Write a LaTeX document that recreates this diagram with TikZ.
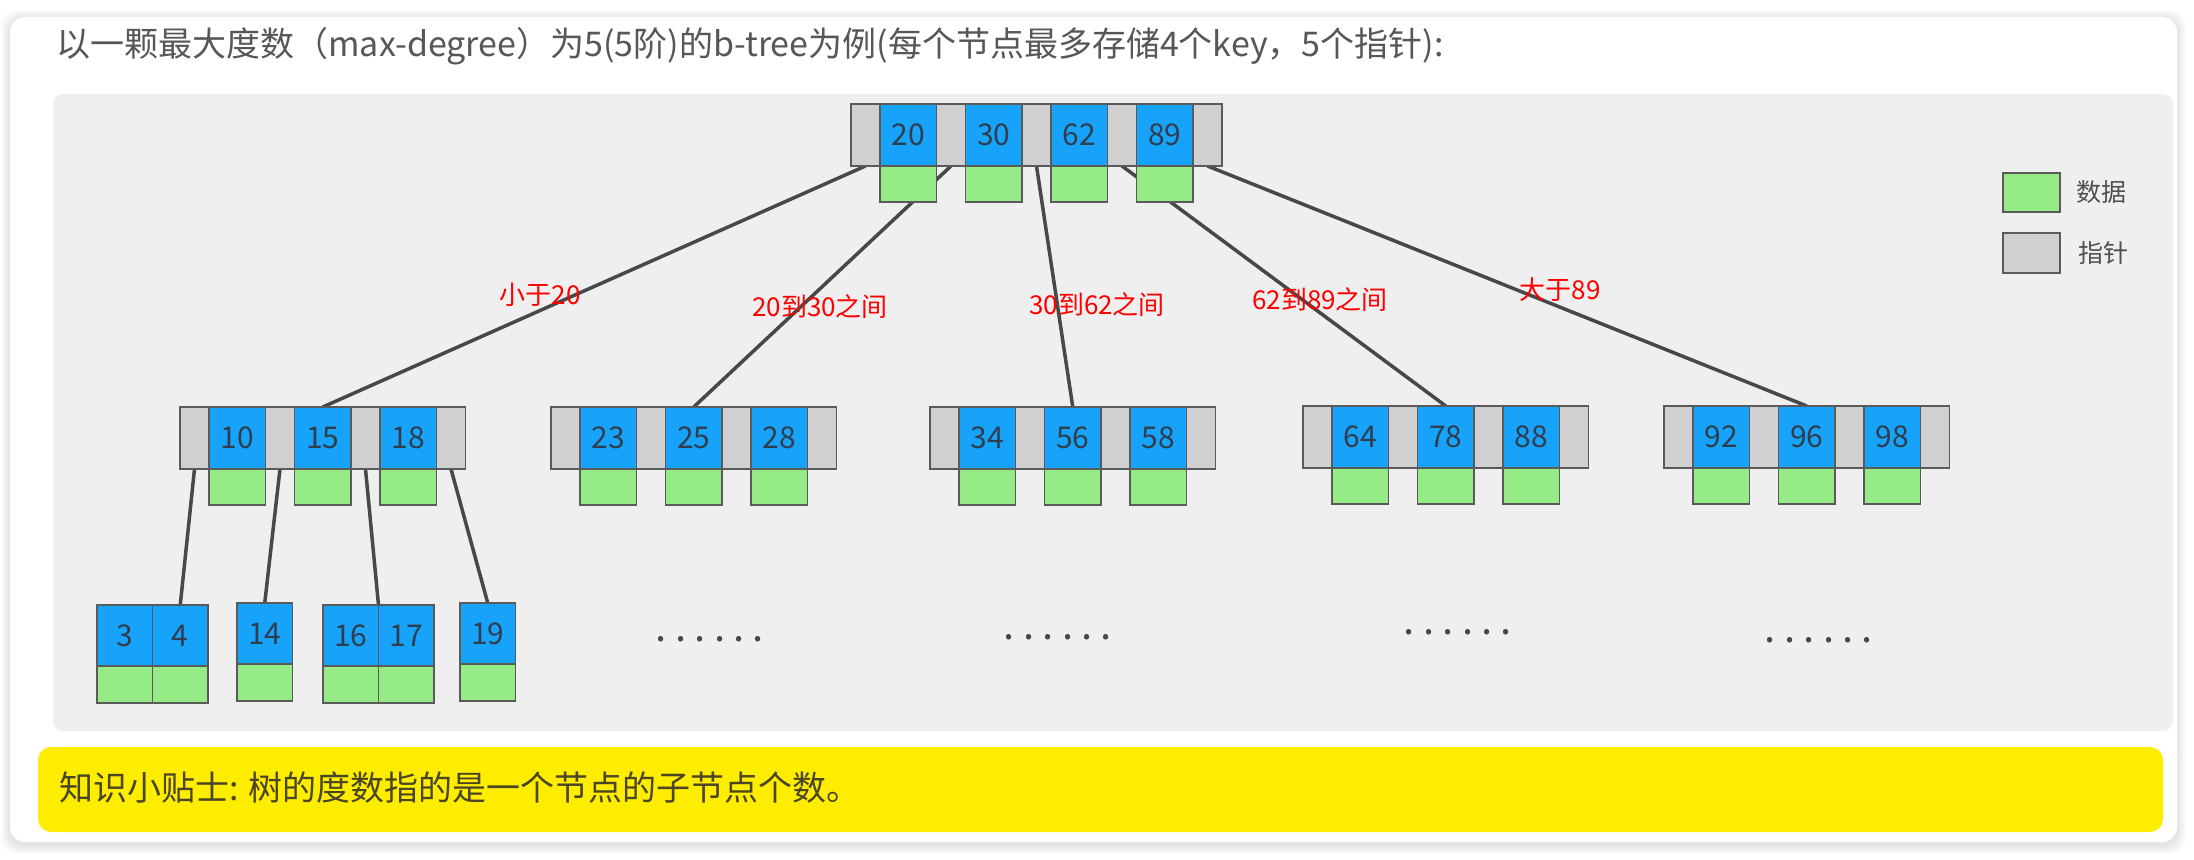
\documentclass[tikz,border=0pt]{standalone}
\usepackage{fontspec}
\setmainfont{Noto Sans CJK SC}
\usetikzlibrary{positioning}

\definecolor{keyblue}{HTML}{18A3FA}
\definecolor{datgreen}{HTML}{95EC87}
\definecolor{ptrgray}{HTML}{D0D0D0}
\definecolor{bord}{HTML}{5A5A5A}
\definecolor{keytext}{HTML}{2E3E4E}
\definecolor{edgecol}{HTML}{484848}
\definecolor{panelgray}{HTML}{EFEFEF}
\definecolor{tipyellow}{HTML}{FFED00}
\definecolor{titlecol}{HTML}{575757}
\definecolor{tiptext}{HTML}{4A4524}
\definecolor{legcol}{HTML}{505050}

\pgfdeclarelayer{back}
\pgfdeclarelayer{edges}
\pgfsetlayers{back,edges,main}

% inner node: name, left x, top y, keys, number of pointers
\newcommand{\btnode}[5]{%
  \foreach \k [count=\i] in {#4} {
    \node[ptrcell] (#1-p\i) at ({#2+(\i-1)*85.5},#3) {};
    \node[keycell] (#1-k\i) at (#1-p\i.north east) {\k};
    \node[datcell] (#1-d\i) at (#1-k\i.south west) {};
  }
  \node[ptrcell] (#1-p#5) at ({#2+(#5-1)*85.5},#3) {};
}
% leaf node: name, left x, top y, keys
\newcommand{\btleaf}[4]{%
  \foreach \k [count=\i] in {#4} {
    \node[lkeycell] (#1-k\i) at ({#2+(\i-1)*55.5},#3) {\k};
    \node[ldatcell] (#1-d\i) at (#1-k\i.south west) {};
  }
}
\newcommand{\dotcell}{\makebox[9.7pt]{.}}

\begin{document}
\begin{tikzpicture}[x=0.5pt, y=-0.5pt,
  cell/.style={draw=bord, line width=0.75pt, inner sep=0pt, outer sep=0pt, anchor=north west},
  ptrcell/.style={cell, fill=ptrgray, minimum width=14.5pt, minimum height=31pt},
  keycell/.style={cell, fill=keyblue, text=keytext, font=\fontsize{15pt}{15pt}\selectfont,
    minimum width=28.25pt, minimum height=31pt},
  datcell/.style={cell, fill=datgreen, minimum width=28.25pt, minimum height=18pt},
  lkeycell/.style={keycell, minimum width=27.75pt, minimum height=30.5pt},
  ldatcell/.style={datcell, minimum width=27.75pt, minimum height=18.5pt},
  link/.style={draw=edgecol, line width=1.75pt},
  rangelabel/.style={text=red, font=\fontsize{13pt}{13pt}\selectfont, inner sep=0pt},
  legtext/.style={text=legcol, font=\fontsize{12.5pt}{12.5pt}\selectfont, inner sep=0pt},
  dotrow/.style={text=edgecol, font=\fontsize{20pt}{20pt}\selectfont, inner sep=0pt}]
\useasboundingbox (0,0) rectangle (2194,860);

% Card, panel and tip box
\begin{pgfonlayer}{back}
\fill[white] (0,0) rectangle (2194,860);
\foreach \s in {1,...,9}
  \fill[black, opacity=0.012, rounded corners=8pt] (10-\s,19-\s) rectangle (2177+\s,845+\s);
\fill[white, rounded corners=7.5pt] (10,17) rectangle (2177,842);
\fill[panelgray, rounded corners=5pt] (53,94) rectangle (2173,731);
\fill[tipyellow, rounded corners=6.5pt] (38,747) rectangle (2163,832);
\end{pgfonlayer}

% Title
\node[anchor=west, inner sep=0pt, text=titlecol, font=\fontsize{17pt}{17pt}\selectfont] (title) at (56,46)
  {以一颗最大度数（max-degree）为5(5阶)的b-tree为例(每个节点最多存储4个key，5个指针):};

% Root
\btnode{root}{851}{104}{20,30,62,89}{5}

% Second level
\btnode{a}{180}{407}{10,15,18}{4}
\btnode{b}{551}{407}{23,25,28}{4}
\btnode{c}{930}{407}{34,56,58}{4}
\btnode{d}{1303}{406}{64,78,88}{4}
\btnode{e}{1664}{406}{92,96,98}{4}

% Leaves
\btleaf{l1}{97}{605}{3,4}
\btleaf{l2}{237}{603}{14}
\btleaf{l3}{323}{605}{16,17}
\btleaf{l4}{460}{603}{19}

% Pointers
\begin{pgfonlayer}{edges}
\foreach \c/\n in {1/a,2/b,3/c,4/d,5/e}
  \draw[link] (root-p\c.south) -- (\n-k2.north);
\draw[link] (a-p1.south) -- (l1-k2.north);
\draw[link] (a-p2.south) -- (l2-k1.north);
\draw[link] (a-p3.south) -- (l3-k1.north east);
\draw[link] (a-p4.south) -- (l4-k1.north);
\end{pgfonlayer}

% Key ranges
\node[rangelabel] (rg1) at (540,295) {小于20};
\node[rangelabel] (rg2) at (820,307) {20到30之间};
\node[rangelabel] (rg3) at (1097,305) {30到62之间};
\node[rangelabel] (rg4) at (1320,300) {62到89之间};
\node[rangelabel] (rg5) at (1560,290) {大于89};

% Omitted children
\node[dotrow] (dots1) at (710,639) {\dotcell\dotcell\dotcell\dotcell\dotcell\dotcell};
\node[dotrow] (dots2) at (1058,637) {\dotcell\dotcell\dotcell\dotcell\dotcell\dotcell};
\node[dotrow] (dots3) at (1458,632) {\dotcell\dotcell\dotcell\dotcell\dotcell\dotcell};
\node[dotrow] (dots4) at (1819,640) {\dotcell\dotcell\dotcell\dotcell\dotcell\dotcell};

% Legend
\node[cell, fill=datgreen, minimum width=28.5pt, minimum height=19.5pt] (legdat) at (2003,173) {};
\node[cell, fill=ptrgray, minimum width=28.5pt, minimum height=20pt] (legptr) at (2003,233) {};
\node[legtext, right=8pt of legdat] (legdat-t) {数据};
\node[legtext, right=9pt of legptr] (legptr-t) {指针};

% Tip
\node[anchor=west, inner sep=0pt, text=tiptext, font=\fontsize{17pt}{17pt}\selectfont] (tip) at (59,788)
  {知识小贴士: 树的度数指的是一个节点的子节点个数。};
\end{tikzpicture}
\end{document}
